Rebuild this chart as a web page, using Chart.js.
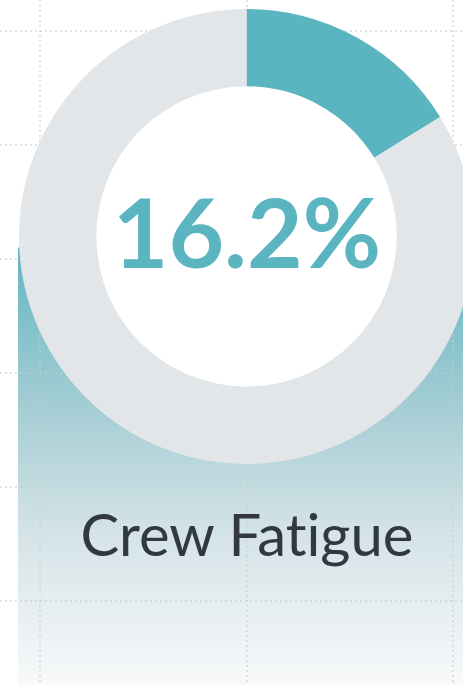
<!DOCTYPE html>
<html>
<head>
<meta charset="utf-8">
<script src="https://cdn.jsdelivr.net/npm/chart.js@4.4.1/dist/chart.umd.min.js"></script>
<style>
  html, body { margin: 0; padding: 0; background: #ffffff; overflow: hidden; }
  #wrap { position: relative; width: 463px; height: 685px; overflow: hidden; }
  #bgBox { position: absolute; left: 0; top: 0; width: 463px; height: 685px; }
  #donutBox { position: absolute; left: 19px; top: 9px; width: 455px; height: 455px; }
  .value { position: absolute; left: 0; top: 183px; width: 494px; text-align: center;
           font-family: Lato, "Open Sans", sans-serif; font-weight: 700; font-size: 96px;
           line-height: 96px; color: #5bb5c1; white-space: nowrap;
           font-variant-ligatures: none; font-feature-settings: "liga" 0; }
  .label { position: absolute; left: 0; top: 505px; width: 494px; text-align: center;
           font-family: Lato, "Open Sans", sans-serif; font-weight: 400; font-size: 58px;
           line-height: 58px; color: #323842; white-space: nowrap;
           font-variant-ligatures: none; font-feature-settings: "liga" 0, "dlig" 0; }
</style>
</head>
<body>
<div id="wrap">
  <div id="bgBox"><canvas id="bg"></canvas></div>
  <div id="donutBox"><canvas id="donut"></canvas></div>
  <div class="value" id="valueText"></div>
  <div class="label" id="labelText"></div>
</div>
<script>
// ---- data ----
const sliceLabels = ["Crew Fatigue", "Other"];
const sliceValues = [16.2, 83.8];
const headlineLabel = "Crew Fatigue";
const headlineValue = "16.2%";

// background area series (decorative trend area behind the ring)
const areaX = [-0.1065, 2.0484];
const areaY = [3.1, 3.1];

// grid tick positions
const xGridTicks = [0, 1, 2];
const yGridTicks = [0, 1, 2, 3, 4, 5];

document.getElementById('valueText').textContent = headlineValue;
document.getElementById('labelText').textContent = headlineLabel;

const TEAL = '#5bb5c1';
const GREY = '#e2e6e8';
const GRID = 'rgba(200,204,206,0.55)';

// ---- background chart: grid + gradient area ----
new Chart(document.getElementById('bg'), {
  type: 'line',
  data: {
    datasets: [{
      data: areaX.map((x, i) => ({ x: x, y: areaY[i] })),
      borderWidth: 0,
      pointRadius: 0,
      fill: 'start',
      backgroundColor: (ctx) => {
        const chart = ctx.chart;
        const area = chart.chartArea;
        if (!area) return 'rgba(91,181,193,0.8)';
        const ys = chart.scales.y;
        const top = ys.getPixelForValue(areaY[0]);
        const g = chart.ctx.createLinearGradient(0, top, 0, area.bottom);
        g.addColorStop(0, 'rgb(98,183,195)');
        g.addColorStop(0.35, 'rgb(162,204,211)');
        g.addColorStop(0.65, 'rgb(212,227,231)');
        g.addColorStop(1, 'rgb(248,249,250)');
        return g;
      }
    }]
  },
  options: {
    responsive: true,
    maintainAspectRatio: false,
    animation: false,
    layout: { padding: 0, autoPadding: false },
    plugins: { legend: { display: false }, tooltip: { enabled: false } },
    scales: {
      x: {
        type: 'linear', min: -0.1937, max: 2.0484,
        afterBuildTicks: (s) => { s.ticks = xGridTicks.map(v => ({ value: v })); },
        ticks: { display: false },
        grid: { color: GRID, lineWidth: 2, drawTicks: false, z: 1 },
        border: { display: false, dash: [2, 3] }
      },
      y: {
        type: 'linear', min: -0.7368, max: 5.2719,
        afterBuildTicks: (s) => { s.ticks = yGridTicks.map(v => ({ value: v })); },
        ticks: { display: false },
        grid: { color: GRID, lineWidth: 2, drawTicks: false, z: 1 },
        border: { display: false, dash: [2, 3] }
      }
    }
  }
});

// white centre of the ring
const holePlugin = {
  id: 'hole',
  beforeDatasetsDraw(chart) {
    const arc = chart.getDatasetMeta(0).data[0];
    if (!arc) return;
    const c = chart.ctx;
    c.save();
    c.fillStyle = '#ffffff';
    c.beginPath();
    c.arc(arc.x, arc.y, arc.innerRadius + 0.5, 0, Math.PI * 2);
    c.fill();
    c.restore();
  }
};

// ---- doughnut ----
new Chart(document.getElementById('donut'), {
  type: 'doughnut',
  data: {
    labels: sliceLabels,
    datasets: [{
      data: sliceValues,
      backgroundColor: [TEAL, GREY],
      borderWidth: 0,
      hoverOffset: 0
    }]
  },
  options: {
    responsive: true,
    maintainAspectRatio: false,
    animation: false,
    cutout: '66%',
    layout: { padding: 0 },
    plugins: { legend: { display: false }, tooltip: { enabled: false } }
  },
  plugins: [holePlugin]
});
</script>
</body>
</html>
